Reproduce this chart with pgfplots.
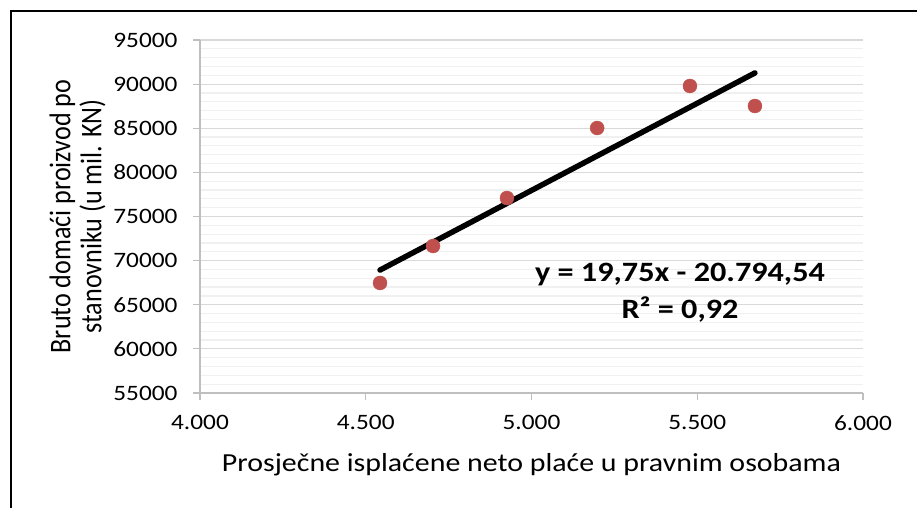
\documentclass[border=0pt]{standalone}
\usepackage{pgfplots}
\pgfplotsset{compat=1.18}
\usepackage{fontspec}
\setmainfont{Carlito}[FakeStretch=1.15]
\newfontfamily\ylabfont{Carlito}[FakeStretch=0.87]
\definecolor{ptred}{HTML}{C0504D}
\definecolor{majgrid}{HTML}{D9D9D9}
\definecolor{mingrid}{HTML}{F0F0F0}
\definecolor{axgray}{HTML}{BFBFBF}
\begin{document}
\begin{tikzpicture}
\useasboundingbox (0,0) rectangle (917bp,508bp);
\draw[line width=2bp] (10.5bp,-5bp) -- (10.5bp,496.5bp) -- (930bp,496.5bp);
\begin{axis}[
  at={(200bp,115bp)}, anchor=south west,
  scale only axis, width=663bp, height=353bp,
  xmin=4000, xmax=6000, ymin=55000, ymax=95000,
  xtick={4000,4500,5000,5500,6000},
  ytick={55000,60000,65000,70000,75000,80000,85000,90000,95000},
  minor y tick num=4,
  ymajorgrids, yminorgrids,
  major grid style={draw=majgrid, line width=1.2bp},
  minor grid style={draw=mingrid, line width=1.2bp},
  axis lines*=left,
  axis line style={draw=axgray, line width=1.2bp},
  tick style={draw=axgray, line width=1.2bp},
  minor tick style={draw=none},
  tick align=outside, major tick length=7bp,
  /pgf/number format/assume math mode=true,
  xticklabel style={/pgf/number format/1000 sep={.}, font=\fontsize{22bp}{26bp}\selectfont, yshift=-12bp},
  yticklabel style={/pgf/number format/1000 sep={}, font=\fontsize{22bp}{26bp}\selectfont, xshift=-12bp},
  scaled ticks=false,
  xlabel={Prosječne isplaćene neto plaće u pravnim osobama},
  ylabel={Bruto domaći proizvod po\\stanovniku (u mil. KN)},
  xlabel style={at={(axis description cs:0.5,-0.204)}, anchor=center, font=\fontsize{26bp}{30bp}\selectfont},
  ylabel style={at={(axis description cs:-0.1848,0.5)}, anchor=center, align=center, font=\ylabfont\fontsize{30bp}{31bp}\selectfont},
  clip=false,
]
\addplot[only marks, mark=*, mark size=7bp, mark options={draw=ptred, fill=ptred}] coordinates {
  (4543,67465) (4703,71657) (4926,77096) (5198,85028) (5478,89788) (5674,87521)
};
\addplot[black, line width=5.5bp, line cap=round] coordinates {
  (4543,68929.7) (5674,91266.96)
};
\node[align=center, font=\bfseries\fontsize{28bp}{37bp}\selectfont] at (axis cs:5448,66330) {y = 19,75x - 20.794,54\\R² = 0,92};
\end{axis}
\end{tikzpicture}
\end{document}
